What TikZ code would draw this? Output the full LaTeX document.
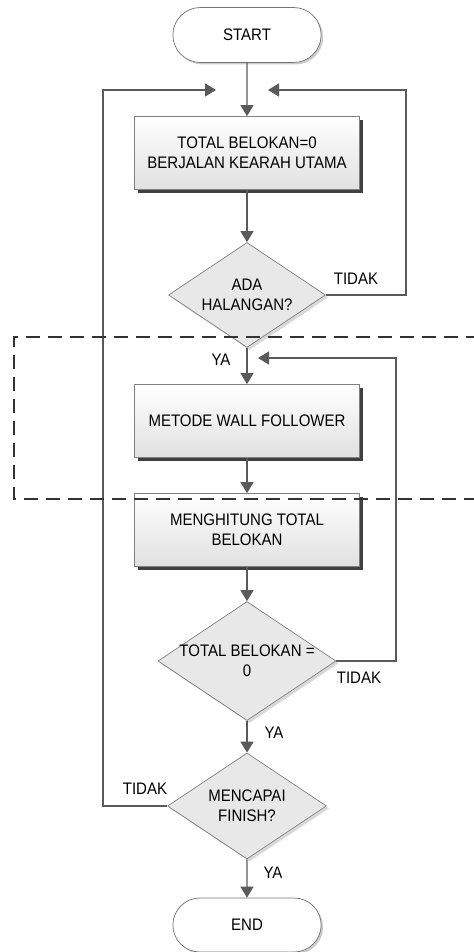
\documentclass[tikz,border=0pt]{standalone}
\usepackage{fontspec}
\setmainfont{Liberation Sans}[FakeStretch=0.9]
\usetikzlibrary{shapes.geometric,shapes.misc,shadows,arrows.meta}
\definecolor{linegray}{HTML}{5A5A5A}
\definecolor{zonegray}{HTML}{333333}
\begin{document}
\begin{tikzpicture}[x=0.02cm, y=-0.02cm,
        font=\fontsize{9.5}{11.3}\selectfont,
        flowline/.style={draw=linegray, line width=0.8pt},
        flowarrow/.style={flowline, -{Triangle[length=0.22cm, width=0.26cm]}},
        terminal/.style={rounded rectangle, draw=black!55, fill=white,
            minimum width=3.2cm, minimum height=1.1cm,
            drop shadow={shadow xshift=0.04cm, shadow yshift=-0.04cm, fill=black!20, opacity=1}},
        process/.style={rectangle, draw=black!50, top color=white, bottom color=black!12,
            minimum width=4.5cm, minimum height=1.46cm, align=center,
            drop shadow={shadow xshift=0.07cm, shadow yshift=-0.07cm, fill=black!75, opacity=1}},
        decision/.style={diamond, draw=black!50, fill=black!9, inner sep=0pt,
            drop shadow={shadow xshift=0.05cm, shadow yshift=-0.05cm, fill=black!15, opacity=1}},
        answer/.style={inner sep=0pt},
        zone/.style={draw=zonegray, line width=1.2pt, dash pattern=on 0.28cm off 0.16cm}
    ]
    \useasboundingbox (0,0) rectangle (473,952);

    % nodes
    \node[terminal] (start) at (247,35) {START};
    \node[process] (belok) at (247,153) {TOTAL BELOKAN=0\\BERJALAN KEARAH UTAMA};
    \node[decision, minimum width=3.14cm, minimum height=2.1cm,
        label={[align=center]center:ADA\\HALANGAN?}] (halangan) at (247,295) {};
    \node[process] (wall) at (247,421) {METODE WALL FOLLOWER};
    \node[process] (hitung) at (247,530) {MENGHITUNG TOTAL\\BELOKAN};
    \node[decision, minimum width=3.56cm, minimum height=2.38cm,
        label={[align=center]center:TOTAL BELOKAN =\\0}] (nol) at (247,661) {};
    \node[decision, minimum width=3.18cm, minimum height=2.12cm,
        label={[align=center]center:MENCAPAI\\FINISH?}] (finish) at (247,806) {};
    \node[terminal, minimum height=1.08cm] (end) at (247,925) {END};

    % answers
    \node[answer] (tidak1) at (356,279) {TIDAK};
    \node[answer] (ya1) at (221,360) {YA};
    \node[answer] (tidak2) at (359,678) {TIDAK};
    \node[answer] (ya2) at (274,733) {YA};
    \node[answer] (tidak3) at (145,789) {TIDAK};
    \node[answer] (ya3) at (273,873) {YA};

    % loop corners
    \coordinate (rtop) at (406,90);
    \coordinate (rtopend) at (268,90);
    \coordinate (ltop) at (103,90);
    \coordinate (ltopend) at (216,90);
    \coordinate (rmid) at (396,358);
    \coordinate (rmidend) at (258,358);

    % connectors
    \draw[flowarrow] (start) -- (belok);
    \draw[flowarrow] (belok) -- (halangan);
    \draw[flowarrow] (halangan) -- (wall);
    \draw[flowarrow] (wall) -- (hitung);
    \draw[flowarrow] (hitung) -- (nol);
    \draw[flowarrow] (nol) -- (finish);
    \draw[flowarrow] (finish) -- (end);
    \draw[flowarrow] (halangan.east) -| (rtop) -- (rtopend);
    \draw[flowarrow] (nol.east) -| (rmid) -- (rmidend);
    \draw[flowarrow] (finish.west) -| (ltop) -- (ltopend);

    % dashed zone
    \draw[zone] (480,337) -- (14,337) -- (14,499) -- (480,499);
\end{tikzpicture}
\end{document}
